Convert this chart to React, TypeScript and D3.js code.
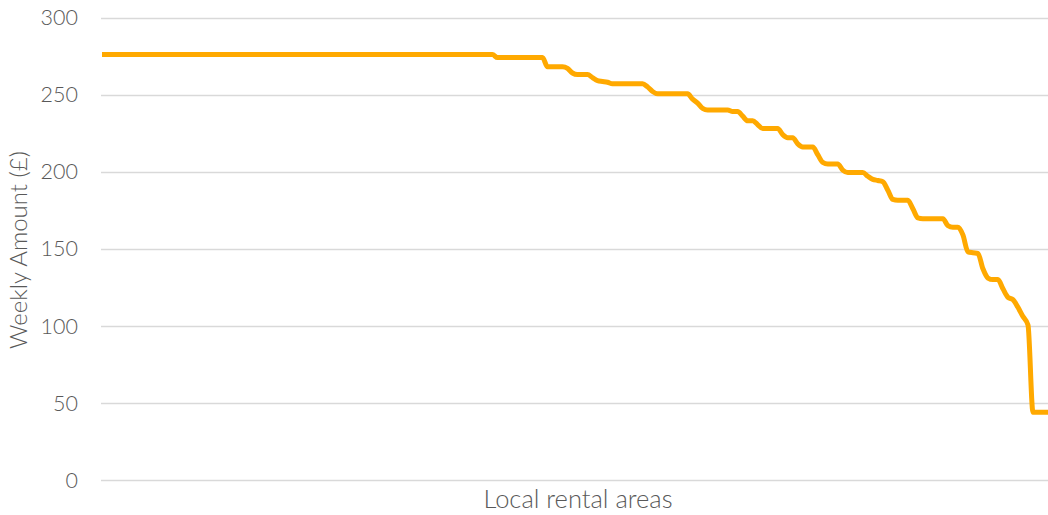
import React, { useRef, useEffect } from "react";
import * as d3 from "d3";

// Weekly amount (£) per local rental area, sorted high to low
const weeklyAmounts: number[] = [
  // 0-78
  276, 276, 276, 276, 276, 276, 276, 276, 276, 276,
  276, 276, 276, 276, 276, 276, 276, 276, 276, 276,
  276, 276, 276, 276, 276, 276, 276, 276, 276, 276,
  276, 276, 276, 276, 276, 276, 276, 276, 276, 276,
  276, 276, 276, 276, 276, 276, 276, 276, 276, 276,
  276, 276, 276, 276, 276, 276, 276, 276, 276, 276,
  276, 276, 276, 276, 276, 276, 276, 276, 276, 276,
  276, 276, 276, 276, 276, 276, 276, 276, 276,
  // 79-88
  274, 274, 274, 274, 274, 274, 274, 274, 274, 274,
  // 89-110
  268, 268, 268, 268, 267, 264, 263, 263, 263, 261,
  259, 258.5, 258, 257, 257, 257, 257, 257, 257, 257,
  255, 252,
  // 111-130
  250.5, 250.5, 250.5, 250.5, 250.5, 250.5, 250.5, 247, 244.5, 241,
  240, 240, 240, 240, 240, 239, 239, 236, 233, 233,
  // 131-150
  230.5, 228, 228, 228, 228, 224, 222, 222, 218, 216,
  216, 216, 211, 206, 205, 205, 205, 201, 199.4, 199.4,
  // 151-170
  199.4, 199.4, 197, 195, 194.3, 193.5, 188, 182, 181.4, 181.4,
  181.4, 176, 170, 169.5, 169.5, 169.5, 169.5, 169.5, 165, 164,
  // 171-189
  164, 159, 148, 147.4, 147, 137, 131, 130, 130, 124,
  118.5, 117, 112, 106, 100.6, 44, 44, 44, 44,
];

const yTicks = [0, 50, 100, 150, 200, 250, 300];

const WIDTH = 1048;
const HEIGHT = 515;

const App: React.FC = () => {
  const ref = useRef<SVGSVGElement | null>(null);

  useEffect(() => {
    const svg = d3.select(ref.current);
    svg.selectAll("*").remove();

    const left = 102;
    const right = 1048;
    const top = 17.5;
    const bottom = 480;
    const font = "Lato, 'Open Sans', sans-serif";
    const textColor = "#595959";

    const x = d3
      .scalePoint<number>()
      .domain(weeklyAmounts.map((_, i) => i))
      .range([left, right]);

    const y = d3.scaleLinear().domain([0, 300]).range([bottom, top]);

    // Gridlines
    svg
      .append("g")
      .selectAll("line")
      .data(yTicks)
      .join("line")
      .attr("x1", left - 1)
      .attr("x2", right)
      .attr("y1", (d) => Math.round(y(d)) + 0.5)
      .attr("y2", (d) => Math.round(y(d)) + 0.5)
      .attr("stroke", "#d9d9d9")
      .attr("stroke-width", 1.3);

    // Y tick labels
    svg
      .append("g")
      .selectAll("text")
      .data(yTicks)
      .join("text")
      .attr("x", 78)
      .attr("y", (d) => y(d))
      .attr("dy", "0.36em")
      .attr("text-anchor", "end")
      .style("font-family", font)
      .style("font-weight", 300)
      .style("font-size", "21.5px")
      .attr("fill", textColor)
      .text((d) => d);

    // Line
    const line = d3
      .line<number>()
      .x((_, i) => x(i) as number)
      .y((d) => y(d))
      .curve(d3.curveMonotoneX);

    svg
      .append("path")
      .datum(weeklyAmounts)
      .attr("fill", "none")
      .attr("stroke", "#ffa900")
      .attr("stroke-width", 5)
      .attr("stroke-linejoin", "round")
      .attr("d", line);

    // Axis titles
    svg
      .append("text")
      .attr("transform", `translate(27, 250) rotate(-90)`)
      .attr("text-anchor", "middle")
      .style("font-family", font)
      .style("font-weight", 300)
      .style("font-size", "24px")
      .attr("fill", textColor)
      .text("Weekly Amount (£)");

    svg
      .append("text")
      .attr("x", 578)
      .attr("y", 508)
      .attr("text-anchor", "middle")
      .style("font-family", font)
      .style("font-weight", 300)
      .style("font-size", "25.5px")
      .attr("fill", textColor)
      .text("Local rental areas");
  }, []);

  return (
    <svg
      ref={ref}
      width={WIDTH}
      height={HEIGHT}
      style={{ position: "absolute", left: 0, top: 0, background: "#fff" }}
    />
  );
};

export default App;
